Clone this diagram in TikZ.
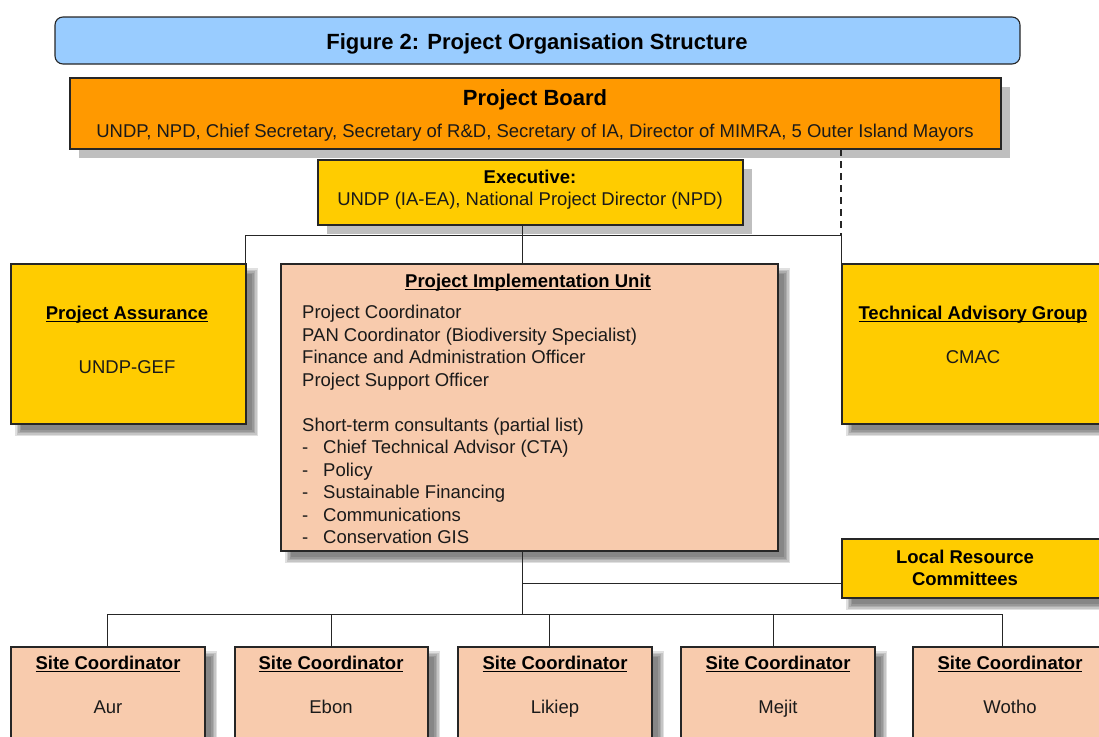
\documentclass[tikz,border=0pt]{standalone}
\usepackage{fontspec}
\setmainfont{Liberation Sans}
\usetikzlibrary{backgrounds}
\definecolor{titleblue}{HTML}{99CCFF}
\definecolor{boardorange}{HTML}{FF9900}
\definecolor{gold}{HTML}{FFCC00}
\definecolor{peach}{HTML}{F8CBAD}
\definecolor{edge}{HTML}{262626}
\definecolor{txt}{HTML}{1A1A1A}
\newsavebox\ulbox
\newcommand\ul[1]{\sbox\ulbox{#1}\rlap{\rule[-2.6pt]{\wd\ulbox}{1.3pt}}\usebox\ulbox}
\newcommand\softshadow[1]{\foreach \a/\b in {4/12,5.5/10.5,7/9,8.5/7.5,10/6}{\fill[black,opacity=0.12] ([xshift=\a pt,yshift=-\a pt]#1.north west) rectangle ([xshift=\b pt,yshift=-\b pt]#1.south east);}}
\begin{document}
\begin{tikzpicture}[x=1pt,y=-1pt,
 box/.style={draw=edge,line width=1.1pt,anchor=north west,inner sep=0pt,outer sep=0pt},
 body/.style={font=\fontsize{18.5}{22.5}\selectfont,text=txt,inner sep=0pt,anchor=base},
 head/.style={font=\fontsize{18.5}{22.5}\selectfont\bfseries,text=black,inner sep=0pt,anchor=base},
 big/.style={font=\fontsize{22}{26}\selectfont\bfseries,text=black,inner sep=0pt,anchor=base},
 link/.style={draw=edge,line width=1pt}]
\useasboundingbox (0,0) rectangle (1099,736);
\clip (0,0) rectangle (1099,736);

% boxes
\node[box,fill=titleblue,rounded corners=8pt,minimum width=965pt,minimum height=47pt] (title) at (55,17) {};
\node[box,fill=boardorange,minimum width=931pt,minimum height=71pt] (board) at (70,78) {};
\node[box,fill=gold,minimum width=425pt,minimum height=65pt] (exec) at (318,160) {};
\node[box,fill=gold,minimum width=235pt,minimum height=160pt] (pa) at (11,264) {};
\node[box,fill=peach,minimum width=497pt,minimum height=287pt] (piu) at (281,264) {};
\node[box,fill=gold,minimum width=270pt,minimum height=160pt] (tag) at (842,264) {};
\node[box,fill=gold,minimum width=270pt,minimum height=59pt] (lrc) at (842,539) {};
\node[box,fill=peach,minimum width=194pt,minimum height=120pt] (s1) at (11,647) {};
\node[box,fill=peach,minimum width=193pt,minimum height=120pt] (s2) at (235,647) {};
\node[box,fill=peach,minimum width=194pt,minimum height=120pt] (s3) at (458,647) {};
\node[box,fill=peach,minimum width=194pt,minimum height=120pt] (s4) at (681,647) {};
\node[box,fill=peach,minimum width=194pt,minimum height=120pt] (s5) at (913,647) {};

% shadows
\begin{scope}[on background layer]
 \fill[black!25] ([xshift=9pt,yshift=-9pt]board.north west) rectangle ([xshift=9pt,yshift=-9pt]board.south east);
 \fill[black!25] ([xshift=9pt,yshift=-9pt]exec.north west) rectangle ([xshift=9pt,yshift=-9pt]exec.south east);
 \softshadow{pa}
 \softshadow{piu}
 \softshadow{tag}
 \softshadow{lrc}
 \softshadow{s1}
 \softshadow{s2}
 \softshadow{s3}
 \softshadow{s4}
 \softshadow{s5}
\end{scope}

% texts
\node[big] (titletext) at (537,49) {Figure 2: Project Organisation Structure};
\node[big] (boardhead) at (535,105) {Project Board};
\node[body] (boardtext) at (535,137.5) {UNDP, NPD, Chief Secretary, Secretary of R\&D, Secretary of IA, Director of MIMRA, 5 Outer Island Mayors};
\node[head] (exechead) at (530,183.5) {Executive:};
\node[body] (exectext) at (530,205.5) {UNDP (IA-EA), National Project Director (NPD)};
\node[head] (pahead) at (127,319.5) {\ul{Project Assurance}};
\node[body] (patext) at (127,373.5) {UNDP-GEF};
\node[head] (taghead) at (973,319.5) {\ul{Technical Advisory Group}};
\node[body] (tagtext) at (973,363.5) {CMAC};
\node[head] (piuhead) at (528,287.5) {\ul{Project Implementation Unit}};
\foreach \y/\t [count=\i] in {318.5/Project Coordinator,341/PAN Coordinator (Biodiversity Specialist),363.5/Finance and Administration Officer,386/Project Support Officer,431/Short-term consultants (partial list)}
  \node[body,anchor=base west] (piul\i) at (302,\y) {\t};
\foreach \y/\t [count=\i] in {453.5/Chief Technical Advisor (CTA),476/Policy,498.5/Sustainable Financing,521/Communications,543.5/Conservation GIS}
  \node[body,anchor=base west] (piui\i) at (302,\y) {\makebox[21pt][l]{-}\t};
\node[head] (lrc1) at (965,563.5) {Local Resource};
\node[head] (lrc2) at (965,585.5) {Committees};
\foreach \n/\x/\t in {s1/108/Aur,s2/331/Ebon,s3/555/Likiep,s4/778/Mejit,s5/1010/Wotho}{
  \node[head] (\n h) at (\x,669.5) {\ul{Site Coordinator}};
  \node[body] (\n t) at (\x,713.5) {\t};
}

% connectors
\coordinate (j1) at (522,235);
\coordinate (hl) at (245,235);
\coordinate (hr) at (841,235);
\coordinate (j3) at (522,583);
\coordinate (j2) at (522,614);
\coordinate (bl) at (107,614);
\coordinate (br) at (1002,614);
\draw[link] (exec.south -| j1) -- (piu.north -| j1);
\draw[link] (pa.north -| hl) -- (hl) -- (hr) -- (tag.north -| hr);
\draw[link,line width=1.8pt,dash pattern=on 7pt off 5pt] (board.south -| hr) -- (hr);
\draw[link] (piu.south -| j2) -- (j2);
\draw[link] (j3) -- (lrc.west |- j3);
\draw[link] (bl) -- (br);
\draw[link] (bl) -- (s1.north -| bl);
\draw[link] (s2.north |- j2) -- (s2.north);
\draw[link] (549,614) -- (s3.north -| 549,0);
\draw[link] (773,614) -- (s4.north -| 773,0);
\draw[link] (br) -- (s5.north -| br);
\end{tikzpicture}
\end{document}
